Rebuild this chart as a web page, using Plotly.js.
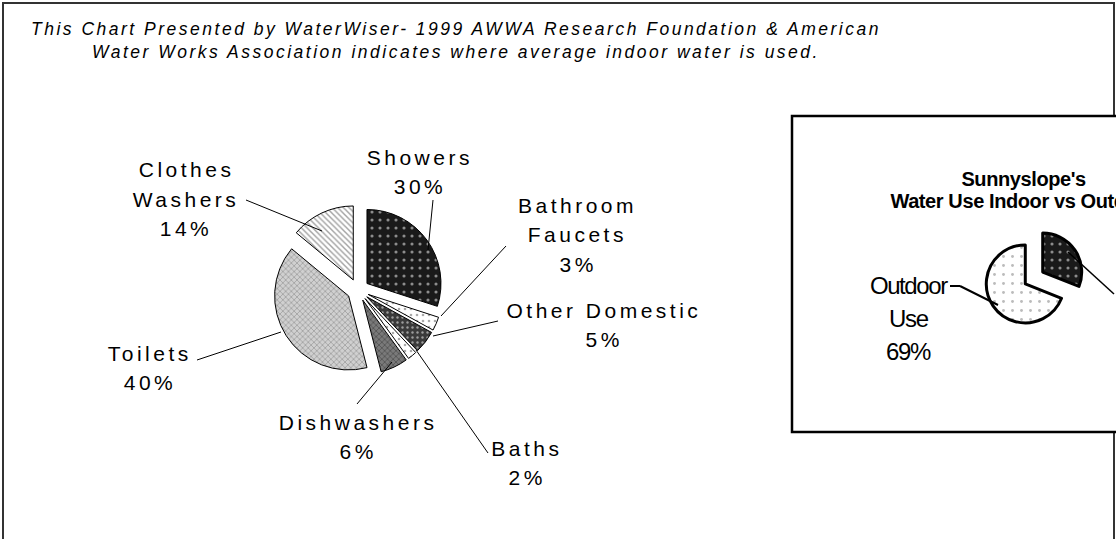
<!DOCTYPE html>
<html>
<head>
<meta charset="utf-8">
<script src="https://cdn.plot.ly/plotly-3.0.1.min.js"></script>
<style>
html,body{margin:0;padding:0;background:#fff;overflow:hidden}
#chart{width:1116px;height:539px}
</style>
</head>
<body>
<div id="chart"></div>
<script>
// ---------- data ----------
const useLabels   = ['Showers', 'Bathroom Faucets', 'Other Domestic', 'Baths', 'Dishwashers', 'Toilets', 'Clothes Washers'];
const useDisplay  = ['Showers', 'Bathroom<br>Faucets', 'Other Domestic', 'Baths', 'Dishwashers', 'Toilets', 'Clothes<br>Washers'];
const usePercent  = [30, 3, 5, 2, 6, 40, 14];

const splitLabels  = ['Indoor Use', 'Outdoor Use'];
const splitDisplay = ['Indoor<br>Use', 'Outdoor<br>Use'];
const splitPercent = [31, 69];

const mainTitle  = 'This Chart Presented by WaterWiser- 1999 AWWA Research Foundation & American<br>Water Works Association indicates where average indoor water is used.';
const insetTitle = ["Sunnyslope's", 'Water Use Indoor vs Outdoor'];

// ---------- geometry helpers (pixels -> paper) ----------
const W = 1116, H = 539;
const px = x => x / W;
const py = y => 1 - y / H;
function domainFor(cx, cy, r, pull) {
  const R = r * (1 + pull);
  return { x: [px(cx - R), px(cx + R)], y: [py(cy + R), py(cy - R)] };
}

const FONT = 'Liberation Sans, Arial, Helvetica, sans-serif';

// ---------- traces ----------
const mainPie = {
  type: 'pie',
  labels: useLabels,
  values: usePercent,
  sort: false,
  direction: 'clockwise',
  rotation: 0,
  pull: [0.15, 0.15, 0.15, 0.15, 0.15, 0.15, 0.15],
  textinfo: 'none',
  hoverinfo: 'label+percent',
  domain: domainFor(358, 290, 74, 0.15),
  marker: {
    colors: ['#1a1a1a', '#ffffff', '#3a3a3a', '#ffffff', '#7a7a7a', '#c8c8c8', '#ffffff'],
    line: { color: '#000', width: 1 },
    pattern: {
      shape:    ['.', '.', '.', '.', 'x', 'x', '\\'],
      bgcolor:  ['#1a1a1a', '#ffffff', '#3a3a3a', '#ffffff', '#7a7a7a', '#d0d0d0', '#ffffff'],
      fgcolor:  ['#ffffff', '#555555', '#ffffff', '#555555', '#222222', '#6a6a6a', '#444444'],
      size:     [8, 6, 5, 6, 4, 4, 4],
      solidity: [0.12, 0.15, 0.18, 0.15, 0.35, 0.35, 0.35],
      fillmode: 'overlay'
    }
  },
  showlegend: false
};

const insetPie = {
  type: 'pie',
  labels: splitLabels,
  values: splitPercent,
  sort: false,
  direction: 'clockwise',
  rotation: 0,
  pull: [0.27, 0.27],
  textinfo: 'none',
  hoverinfo: 'label+percent',
  domain: domainFor(1034, 278, 39, 0.27),
  marker: {
    colors: ['#1a1a1a', '#ffffff'],
    line: { color: '#000', width: 3 },
    pattern: {
      shape: ['.', '.'],
      bgcolor: ['#1a1a1a', '#ffffff'],
      fgcolor: ['#ffffff', '#777777'],
      size: [8, 9],
      solidity: [0.12, 0.08],
      fillmode: 'overlay'
    }
  },
  showlegend: false
};

// ---------- label annotations (one per text line) ----------
const annotations = [];
const spacing = [];
function addLine(text, x, y, font, ls) {
  annotations.push({
    xref: 'paper', yref: 'paper', x: px(x), y: py(y),
    xanchor: 'center', yanchor: 'middle', align: 'center',
    text: text, showarrow: false, font: font
  });
  spacing.push(ls);
}
const mainLabelPos = [[420, 157], [578, 205], [604, 310], [527, 448], [358, 422], [150, 353], [186, 170]];
const MAIN_GAP = 29.5;
const mainFont = { family: FONT, size: 21, color: '#000' };
useDisplay.forEach((lab, i) => {
  const lines = lab.split('<br>').concat([usePercent[i] + '%']);
  lines.forEach((ln, k) => addLine(ln, mainLabelPos[i][0], mainLabelPos[i][1] + k * MAIN_GAP, mainFont, '3.5px'));
});
const insetTitleFont = { family: FONT, size: 20, color: '#000', weight: 'bold' };
insetTitle.forEach((ln, k) => addLine(ln, 1023, 178.5 + k * 22, insetTitleFont, '-0.4px'));
const outdoorLines = splitDisplay[1].split('<br>').concat([splitPercent[1] + '%']);
const insetFont = { family: FONT, size: 24, color: '#000' };
outdoorLines.forEach((ln, k) => addLine(ln, 908, 285 + k * 33, insetFont, '-1.4px'));

// ---------- frames & leader lines ----------
function seg(x0, y0, x1, y1, w) {
  return { type: 'line', xref: 'paper', yref: 'paper', x0: px(x0), y0: py(y0), x1: px(x1), y1: py(y1),
           line: { color: '#000', width: w || 1 }, layer: 'above' };
}
const shapes = [
  { type: 'rect', xref: 'paper', yref: 'paper', x0: px(3), y0: py(600), x1: px(1114), y1: py(3),
    line: { color: '#333', width: 2 }, fillcolor: 'rgba(0,0,0,0)', layer: 'below' },
  { type: 'rect', xref: 'paper', yref: 'paper', x0: px(792), y0: py(432), x1: px(1260), y1: py(116),
    line: { color: '#000', width: 2.5 }, fillcolor: '#fff', layer: 'below' },
  seg(433, 200, 428, 250),
  seg(246, 200, 322, 231),
  seg(506, 246, 441, 316),
  seg(498, 321, 433, 336),
  seg(488, 453, 416, 350),
  seg(357, 404, 392, 362),
  seg(197, 360, 281, 332),
  seg(950, 286, 960, 286, 2),
  seg(960, 286, 998, 305, 2),
  seg(1068, 252, 1114, 294, 1.5)
];

const layout = {
  width: W, height: H,
  margin: { l: 0, r: 0, t: 0, b: 0 },
  paper_bgcolor: '#fff',
  showlegend: false,
  title: {
    text: mainTitle,
    x: px(456), xref: 'paper', xanchor: 'center',
    y: py(35), yref: 'paper', yanchor: 'middle',
    font: { family: FONT, size: 17.5, color: '#000', style: 'italic' }
  },
  annotations: annotations,
  shapes: shapes
};

Plotly.newPlot('chart', [mainPie, insetPie], layout, { staticPlot: true, displayModeBar: false }).then(() => {
  spacing.forEach((ls, i) => {
    document.querySelectorAll('g.annotation[data-index="' + i + '"] text.annotation-text').forEach(t => {
      t.style.letterSpacing = ls;
    });
  });
  document.querySelectorAll('.gtitle').forEach(t => { t.style.letterSpacing = '2.5px'; });
});
</script>
</body>
</html>
